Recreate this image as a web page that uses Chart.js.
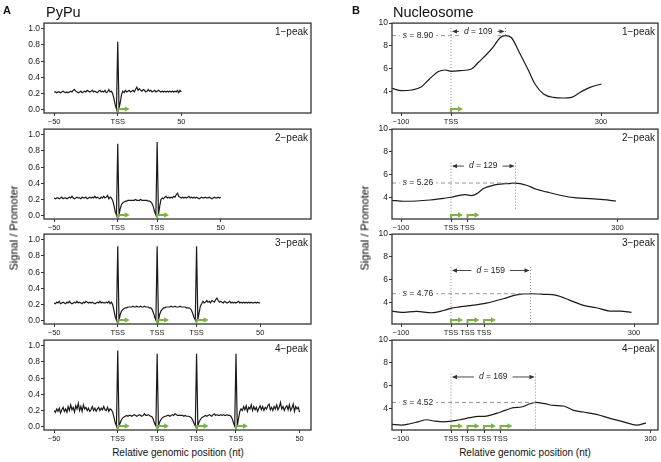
<!DOCTYPE html>
<html>
<head>
<meta charset="utf-8">
<script src="https://cdn.jsdelivr.net/npm/chart.js@4.4.1/dist/chart.umd.min.js"></script>
<style>
  body { margin: 0; background: #fff; }
  #fig { position: relative; width: 661px; height: 462px; overflow: hidden; background: #fff;
         font-family: "Liberation Sans", Arial, Helvetica, sans-serif; color: #111; }
  .txt { position: absolute; white-space: nowrap; line-height: 1; }
  .ytitle { font-size: 11px; color: #000; transform: translate(-50%,-50%) rotate(-90deg); }
</style>
</head>
<body>
<div id="fig">
  <div class="txt" style="left:3px;top:5px;font-size:11px;font-weight:bold">A</div>
  <div class="txt" style="left:46px;top:5px;font-size:14.5px">PyPu</div>
  <div class="txt" style="left:352px;top:5px;font-size:11px;font-weight:bold">B</div>
  <div class="txt" style="left:393px;top:5px;font-size:14.5px">Nucleosome</div>
  <div class="txt ytitle" style="left:14px;top:228px">Signal / Promoter</div>
  <div class="txt ytitle" style="left:365px;top:228px">Signal / Promoter</div>
  <div class="txt" style="left:178px;top:448px;font-size:10px;transform:translateX(-50%)">Relative genomic position (nt)</div>
  <div class="txt" style="left:525px;top:448px;font-size:10px;transform:translateX(-50%)">Relative genomic position (nt)</div>
</div>
<script>
// ---- PyPu signal: one value per nt, first value at x = -50 ----
const pypuStart = -50;
const pypuTss = [0, 31, 62, 93];

const pypu1 = [
  0.22, 0.22, 0.21, 0.22, 0.22, 0.21, 0.22, 0.23, 0.22, 0.21,
  0.22, 0.21, 0.22, 0.23, 0.22, 0.24, 0.25, 0.23, 0.22, 0.21,
  0.22, 0.23, 0.21, 0.22, 0.23, 0.22, 0.24, 0.23, 0.22, 0.23,
  0.24, 0.22, 0.23, 0.22, 0.21, 0.23, 0.24, 0.22, 0.23, 0.22,
  0.24, 0.21, 0.22, 0.25, 0.22, 0.23, 0.20, 0.14, 0.06, 0.01,
  0.84, 0.02, 0.09, 0.19, 0.23, 0.21, 0.24, 0.22, 0.23, 0.24, 0.22,
  0.23, 0.24, 0.22, 0.25, 0.28, 0.24, 0.26, 0.24, 0.23, 0.25,
  0.24, 0.22, 0.23, 0.25, 0.23, 0.24, 0.22, 0.23, 0.24, 0.22,
  0.23, 0.24, 0.23, 0.22, 0.23, 0.22, 0.23, 0.22, 0.23, 0.22,
  0.23, 0.22, 0.23, 0.22, 0.23, 0.22, 0.24, 0.21, 0.24, 0.22
];

const pypu2 = [
  0.22, 0.21, 0.22, 0.22, 0.21, 0.22, 0.23, 0.21, 0.22, 0.22,
  0.21, 0.22, 0.23, 0.22, 0.24, 0.22, 0.21, 0.22, 0.23, 0.22,
  0.22, 0.21, 0.23, 0.22, 0.22, 0.23, 0.21, 0.22, 0.23, 0.22,
  0.23, 0.22, 0.24, 0.22, 0.23, 0.22, 0.21, 0.23, 0.22, 0.24,
  0.22, 0.23, 0.25, 0.21, 0.23, 0.22, 0.19, 0.13, 0.05, 0.01,
  0.89, 0.01, 0.09, 0.14, 0.16, 0.17, 0.18, 0.18, 0.19, 0.19, 0.19,
  0.19, 0.19, 0.19, 0.20, 0.19, 0.19, 0.19, 0.20, 0.19, 0.19,
  0.19, 0.19, 0.19, 0.18, 0.18, 0.17, 0.15, 0.11, 0.05, 0.01,
  0.91, 0.01, 0.12, 0.20, 0.22, 0.21, 0.23, 0.24, 0.22, 0.23,
  0.22, 0.23, 0.22, 0.24, 0.23, 0.26, 0.28, 0.24, 0.23, 0.22,
  0.23, 0.22, 0.23, 0.22, 0.23, 0.24, 0.22, 0.23, 0.22, 0.23,
  0.22, 0.23, 0.22, 0.21, 0.22, 0.23, 0.22, 0.22, 0.23, 0.22,
  0.22, 0.23, 0.22, 0.21, 0.22, 0.23, 0.22, 0.22, 0.23, 0.22, 0.23
];

const pypu3 = [
  0.22, 0.21, 0.23, 0.22, 0.24, 0.21, 0.22, 0.23, 0.22, 0.21,
  0.23, 0.22, 0.24, 0.22, 0.21, 0.22, 0.23, 0.22, 0.24, 0.22,
  0.23, 0.22, 0.21, 0.23, 0.22, 0.24, 0.23, 0.22, 0.23, 0.22,
  0.23, 0.22, 0.21, 0.22, 0.23, 0.22, 0.24, 0.22, 0.23, 0.22,
  0.22, 0.23, 0.22, 0.24, 0.21, 0.23, 0.20, 0.13, 0.05, 0.01,
  0.92, 0.01, 0.08, 0.12, 0.14, 0.15, 0.16, 0.16, 0.17, 0.17, 0.17,
  0.17, 0.18, 0.17, 0.17, 0.18, 0.17, 0.17, 0.18, 0.17, 0.17,
  0.18, 0.17, 0.17, 0.17, 0.16, 0.16, 0.14, 0.10, 0.05, 0.01,
  0.92, 0.01, 0.08, 0.12, 0.14, 0.16, 0.16, 0.17, 0.17, 0.17,
  0.17, 0.18, 0.17, 0.17, 0.18, 0.17, 0.17, 0.17, 0.18, 0.17,
  0.17, 0.17, 0.17, 0.16, 0.16, 0.16, 0.15, 0.13, 0.09, 0.04, 0.01,
  0.92, 0.01, 0.10, 0.18, 0.21, 0.24, 0.22, 0.23, 0.25, 0.23,
  0.24, 0.22, 0.25, 0.24, 0.23, 0.26, 0.28, 0.25, 0.23, 0.24,
  0.23, 0.22, 0.24, 0.23, 0.22, 0.23, 0.24, 0.22, 0.23, 0.22,
  0.23, 0.22, 0.23, 0.24, 0.22, 0.23, 0.22, 0.23, 0.22, 0.23,
  0.22, 0.23, 0.22, 0.23, 0.22, 0.22, 0.23, 0.22, 0.23, 0.22, 0.22
];

const pypu4 = [
  0.20, 0.18, 0.22, 0.19, 0.23, 0.17, 0.21, 0.24, 0.19, 0.22,
  0.18, 0.25, 0.20, 0.27, 0.21, 0.24, 0.18, 0.26, 0.22, 0.29,
  0.20, 0.25, 0.19, 0.27, 0.22, 0.24, 0.20, 0.23, 0.19, 0.21,
  0.25, 0.20, 0.23, 0.19, 0.22, 0.24, 0.20, 0.23, 0.21, 0.25,
  0.21, 0.20, 0.24, 0.19, 0.22, 0.21, 0.18, 0.12, 0.05, 0.01,
  0.94, 0.01, 0.05, 0.09, 0.11, 0.12, 0.13, 0.14, 0.13, 0.14, 0.14,
  0.13, 0.14, 0.15, 0.14, 0.13, 0.14, 0.15, 0.14, 0.13, 0.14,
  0.16, 0.14, 0.14, 0.15, 0.14, 0.13, 0.12, 0.09, 0.04, 0.01,
  0.90, 0.01, 0.06, 0.09, 0.11, 0.12, 0.13, 0.13, 0.14, 0.14,
  0.13, 0.14, 0.15, 0.14, 0.16, 0.15, 0.14, 0.14, 0.14, 0.14,
  0.14, 0.13, 0.14, 0.13, 0.13, 0.13, 0.12, 0.11, 0.08, 0.04, 0.01,
  0.90, 0.01, 0.06, 0.09, 0.11, 0.12, 0.13, 0.14, 0.13, 0.14,
  0.15, 0.14, 0.13, 0.15, 0.16, 0.14, 0.15, 0.14, 0.14, 0.15,
  0.14, 0.15, 0.14, 0.14, 0.15, 0.14, 0.14, 0.13, 0.10, 0.05, 0.01,
  0.90, 0.01, 0.10, 0.19, 0.22, 0.20, 0.25, 0.21, 0.26, 0.19,
  0.24, 0.22, 0.27, 0.20, 0.25, 0.21, 0.24, 0.19, 0.23, 0.26,
  0.21, 0.25, 0.20, 0.24, 0.22, 0.26, 0.28, 0.21, 0.24, 0.20,
  0.25, 0.22, 0.27, 0.21, 0.24, 0.30, 0.22, 0.25, 0.20, 0.24,
  0.26, 0.21, 0.27, 0.20, 0.23, 0.28, 0.19, 0.25, 0.22, 0.24, 0.18
];

// ---- Nucleosome signal ----
const nucTss = [0, 33, 66, 99];
const nuc1X = [-118, -99, -79, -59, -43, -25, -12, 1, 18, 41, 55, 71, 85, 98, 109, 121, 138, 155, 168, 185, 205, 225, 241, 258, 278, 301];
const nuc1Y = [4.26, 4.06, 4.12, 4.41, 5.09, 5.74, 5.88, 5.76, 5.82, 5.97, 6.56, 7.24, 7.94, 8.71, 8.90, 8.71, 7.30, 5.83, 4.65, 3.77, 3.47, 3.42, 3.47, 3.91, 4.35, 4.65];
const nuc2X = [-118, -95, -69, -42, -15, 1, 15, 28, 41, 51, 65, 85, 108, 129, 151, 171, 191, 218, 251, 278, 305, 330];
const nuc2Y = [3.74, 3.66, 3.68, 3.77, 3.92, 4.01, 4.16, 4.24, 4.16, 4.31, 4.78, 5.07, 5.20, 5.26, 5.07, 4.71, 4.48, 4.19, 3.95, 3.89, 3.80, 3.68];
const nuc3X = [-118, -99, -69, -39, -15, 1, 15, 38, 71, 105, 131, 159, 185, 211, 238, 265, 291, 318, 338, 361];
const nuc3Y = [3.24, 3.12, 3.21, 3.09, 3.29, 3.50, 3.59, 3.71, 3.94, 4.32, 4.66, 4.76, 4.71, 4.62, 4.18, 3.74, 3.53, 3.24, 3.24, 3.12];
const nuc4X = [-118, -99, -82, -66, -49, -32, -16, 1, 21, 38, 55, 71, 91, 108, 125, 141, 158, 169, 188, 205, 225, 245, 265, 291, 318, 345, 371, 390];
const nuc4Y = [2.59, 2.53, 2.65, 2.82, 3.00, 2.88, 2.82, 2.88, 3.03, 3.18, 3.29, 3.32, 3.56, 3.82, 4.06, 4.12, 4.41, 4.52, 4.41, 4.26, 4.21, 3.82, 3.68, 3.47, 3.12, 2.82, 2.53, 2.71];

const nucS = [8.90, 5.26, 4.76, 4.52];     // peak height
const nucD = [109, 129, 159, 169];         // distance TSS -> peak
const nucArrowY = [9.27, 6.75, 6.8, 6.76]; // where the d arrow sits
const nucPeakLineEnd = [8.95, 3.0, 2.1, 2.1];

const peakNames = ['1\u2212peak', '2\u2212peak', '3\u2212peak', '4\u2212peak'];

// ---- layout ----
const FAM = '"Liberation Sans", Arial, Helvetica, sans-serif';
Chart.defaults.font.family = FAM;
const frameTops = [23, 129, 234, 340];
const FRAME_H = 90;
const PAD_TOP = 6, PAD_RIGHT = 3, X_AXIS_H = 16;
const fig = document.getElementById('fig');
const INK = '#1a1a1a';

function line(ctx, x1, y1, x2, y2) {
  ctx.beginPath(); ctx.moveTo(x1, y1); ctx.lineTo(x2, y2); ctx.stroke();
}

function drawTssArrows(chart, tss) {
  const { ctx, chartArea: a, scales: { x } } = chart;
  ctx.save();
  ctx.strokeStyle = '#7cb342'; ctx.fillStyle = '#7cb342'; ctx.lineWidth = 2;
  tss.forEach(t => {
    const px = x.getPixelForValue(t), yb = a.bottom - 1, yh = a.bottom - 4;
    ctx.beginPath(); ctx.moveTo(px, yb); ctx.lineTo(px, yh); ctx.lineTo(px + 8, yh); ctx.stroke();
    ctx.beginPath(); ctx.moveTo(px + 12, yh); ctx.lineTo(px + 7, yh - 2.8); ctx.lineTo(px + 7, yh + 2.8); ctx.closePath(); ctx.fill();
  });
  ctx.restore();
}

function italicLabel(ctx, cx, cy, it, rest, size, gap) {
  ctx.font = `italic ${size}px ${FAM}`; const w1 = ctx.measureText(it).width;
  ctx.font = `${size}px ${FAM}`; const w2 = ctx.measureText(rest).width;
  const w = w1 + w2, x0 = cx - w / 2;
  ctx.fillStyle = '#fff'; ctx.fillRect(x0 - gap, cy - size * 0.6, w + 2 * gap, size * 1.2);
  ctx.fillStyle = '#222'; ctx.textBaseline = 'middle'; ctx.textAlign = 'left';
  ctx.font = `italic ${size}px ${FAM}`; ctx.fillText(it, x0, cy);
  ctx.font = `${size}px ${FAM}`; ctx.fillText(rest, x0 + w1, cy);
}

function drawNucAnnot(chart, k) {
  const { ctx, chartArea: a, scales: { x, y } } = chart;
  const x0 = x.getPixelForValue(0), xd = x.getPixelForValue(nucD[k]);
  const ys = y.getPixelForValue(nucS[k]), ya = y.getPixelForValue(nucArrowY[k]);
  const yTop = y.getPixelForValue(nucArrowY[k] + 0.3);
  ctx.save();
  ctx.lineWidth = 0.9;
  ctx.strokeStyle = '#8a8a8a'; ctx.setLineDash([4, 3]);
  line(ctx, a.left, ys, xd, ys);
  ctx.strokeStyle = '#7a7a7a'; ctx.setLineDash([1, 2]);
  line(ctx, x0, yTop, x0, a.bottom);
  line(ctx, xd, yTop, xd, y.getPixelForValue(nucPeakLineEnd[k]));
  ctx.setLineDash([]);
  italicLabel(ctx, x.getPixelForValue(-66), ys, 's', ' = ' + nucS[k].toFixed(2), 8.5, 3);
  // d arrow
  ctx.strokeStyle = '#333'; ctx.fillStyle = '#333'; ctx.lineWidth = 0.9;
  line(ctx, x0 + 2, ya, xd - 2, ya);
  ctx.beginPath(); ctx.moveTo(x0 + 1, ya); ctx.lineTo(x0 + 6, ya - 2.2); ctx.lineTo(x0 + 6, ya + 2.2); ctx.closePath(); ctx.fill();
  ctx.beginPath(); ctx.moveTo(xd - 1, ya); ctx.lineTo(xd - 6, ya - 2.2); ctx.lineTo(xd - 6, ya + 2.2); ctx.closePath(); ctx.fill();
  italicLabel(ctx, (x0 + xd) / 2, ya, 'd', ' = ' + nucD[k], 8.5, 5);
  ctx.restore();
}

function makePanel(p) {
  const w = p.axisW + p.frameW + PAD_RIGHT, h = PAD_TOP + FRAME_H + X_AXIS_H;
  const cv = document.createElement('canvas');
  cv.width = w; cv.height = h;
  cv.style.cssText = `position:absolute;left:${p.left}px;top:${p.top - PAD_TOP}px;width:${w}px;height:${h}px`;
  fig.insertBefore(cv, fig.firstChild);

  const deco = {
    id: 'deco',
    afterDraw(chart) {
      const { ctx, chartArea: a } = chart;
      if (p.nucIndex !== undefined) drawNucAnnot(chart, p.nucIndex);
      drawTssArrows(chart, p.tss);
      ctx.save();
      ctx.strokeStyle = '#333'; ctx.lineWidth = 1.3;
      ctx.strokeRect(a.left, a.top, a.right - a.left, a.bottom - a.top);
      ctx.fillStyle = INK; ctx.font = `10px ${FAM}`;
      ctx.textAlign = 'right'; ctx.textBaseline = 'middle';
      ctx.fillText(p.name, a.right - 3, a.top + 9);
      ctx.restore();
    }
  };

  new Chart(cv, {
    type: 'line',
    data: { datasets: [{
      data: p.points, borderColor: INK, borderWidth: p.lw, pointRadius: 0,
      tension: p.smooth ? 0.4 : 0, cubicInterpolationMode: p.smooth ? 'monotone' : 'default'
    }] },
    options: {
      responsive: false, animation: false, devicePixelRatio: 1,
      layout: { padding: { top: PAD_TOP, right: PAD_RIGHT, left: 0, bottom: 0 } },
      plugins: { legend: { display: false }, tooltip: { enabled: false } },
      scales: {
        x: {
          type: 'linear', min: p.xMin, max: p.xMax,
          afterBuildTicks: s => { s.ticks = p.xTicks.map(v => ({ value: v })); },
          afterFit: s => { s.height = X_AXIS_H; },
          ticks: { autoSkip: false, maxRotation: 0, padding: 1, color: '#222',
                   font: { size: 7.5 }, callback: (v, i) => p.xLabels[i] },
          grid: { drawOnChartArea: false, tickLength: 3, color: '#333' },
          border: { display: false }
        },
        y: {
          min: p.yMin, max: p.yMax,
          afterBuildTicks: s => { s.ticks = p.yTicks.map(v => ({ value: v })); },
          afterFit: s => { s.width = p.axisW; },
          ticks: { padding: 1, color: '#222', font: { size: 8.5 }, callback: p.yFmt },
          grid: { drawOnChartArea: false, tickLength: 3, color: '#333' },
          border: { display: false }
        }
      }
    },
    plugins: [deco]
  });
}

const pypuSeries = [pypu1, pypu2, pypu3, pypu4];
const nucSeries = [[nuc1X, nuc1Y], [nuc2X, nuc2Y], [nuc3X, nuc3Y], [nuc4X, nuc4Y]];

pypuSeries.forEach((ys, k) => {
  const tss = pypuTss.slice(0, k + 1);
  makePanel({
    left: 0, top: frameTops[k], axisW: 44, frameW: 267, lw: 1.2,
    points: ys.map((v, i) => ({ x: pypuStart + i, y: v })),
    xMin: -58, xMax: 152,
    xTicks: [-50, ...tss, tss[tss.length - 1] + 50],
    xLabels: ['\u221250', ...tss.map(() => 'TSS'), '50'],
    yMin: -0.04, yMax: 1.07, yTicks: [0, 0.2, 0.4, 0.6, 0.8, 1.0], yFmt: v => v.toFixed(1),
    tss, name: peakNames[k]
  });
});

nucSeries.forEach(([xs, ys], k) => {
  const tss = nucTss.slice(0, k + 1);
  makePanel({
    left: 360, top: frameTops[k], axisW: 32, frameW: 266, lw: 1.2, smooth: true,
    points: xs.map((v, i) => ({ x: v, y: ys[i] })),
    xMin: -118, xMax: 414,
    xTicks: [-100, ...tss, tss[tss.length - 1] + 300],
    xLabels: ['\u2212100', ...tss.map(() => 'TSS'), '300'],
    yMin: 2.1, yMax: 10, yTicks: [4, 6, 8, 10], yFmt: v => String(v),
    tss, name: peakNames[k], nucIndex: k
  });
});
</script>
</body>
</html>
